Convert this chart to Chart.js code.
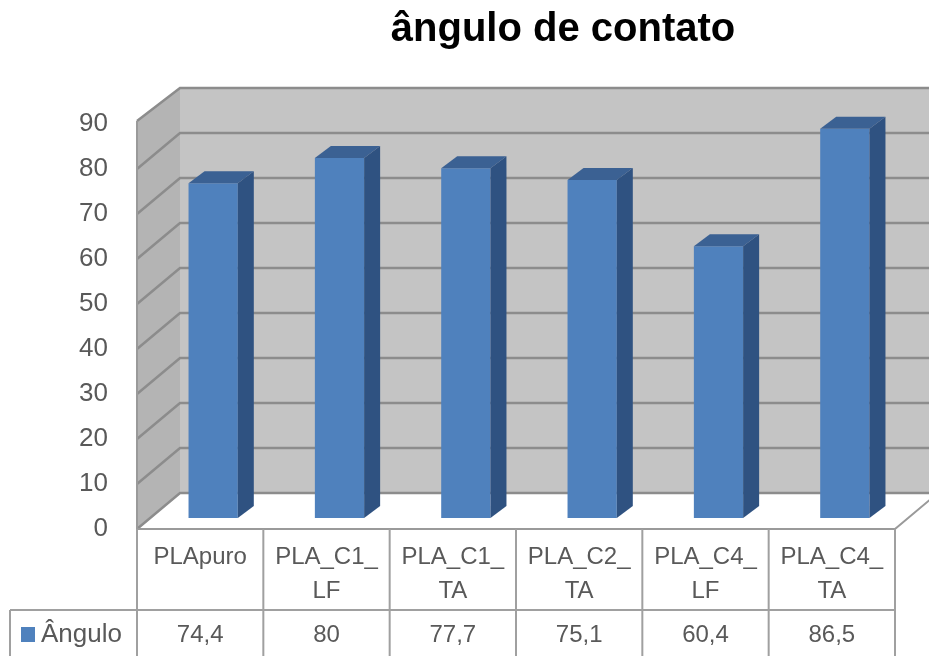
<!DOCTYPE html>
<html>
<head>
<meta charset="utf-8">
<script src="https://cdn.jsdelivr.net/npm/chart.js@4.4.1/dist/chart.umd.min.js"></script>
<style>
  body { margin: 0; background: #fff; }
  #wrap { position: relative; width: 929px; height: 656px; }
  #title {
    position: absolute; left: 313px; top: 7px; width: 500px; text-align: center;
    font: bold 40px "Liberation Sans", Arial, sans-serif; line-height: 40px; color: #000;
  }
</style>
</head>
<body>
<div id="wrap">
  <canvas id="chart" width="929" height="656"></canvas>
  <div id="title">ângulo de contato</div>
</div>
<script>
const categories = ["PLApuro", ["PLA_C1_", "LF"], ["PLA_C1_", "TA"], ["PLA_C2_", "TA"], ["PLA_C4_", "LF"], ["PLA_C4_", "TA"]];
const seriesName = "Ângulo";
const angulo = [74.4, 80, 77.7, 75.1, 60.4, 86.5];
const valueLabels = ["74,4", "80", "77,7", "75,1", "60,4", "86,5"];
const yMin = 0, yMax = 90, yStep = 10;

// fake 3D geometry (pixels)
const WALL = { dx: 43, dy: -36 };   // front plane -> back wall
const BAR = { dx: 13, dy: -11 };    // front plane -> bar front face
const DEPTH = { dx: 16, dy: -12 };  // bar thickness
const FONT = '"Liberation Sans", Arial, sans-serif';
const TEXT = "#595959";

function poly(ctx, pts, fill, stroke, lw) {
  ctx.beginPath();
  ctx.moveTo(pts[0][0], pts[0][1]);
  for (let i = 1; i < pts.length; i++) ctx.lineTo(pts[i][0], pts[i][1]);
  ctx.closePath();
  if (fill) { ctx.fillStyle = fill; ctx.fill(); }
  if (stroke) { ctx.strokeStyle = stroke; ctx.lineWidth = lw || 1; ctx.stroke(); }
}

const walls3d = {
  id: "walls3d",
  beforeDatasetsDraw(chart) {
    const { ctx, chartArea: a, scales: { y } } = chart;
    const L = a.left, R = a.right, T = y.getPixelForValue(yMax), B = y.getPixelForValue(yMin);
    ctx.save();
    // back wall
    poly(ctx, [[L + WALL.dx, T + WALL.dy], [R + WALL.dx, T + WALL.dy], [R + WALL.dx, B + WALL.dy], [L + WALL.dx, B + WALL.dy]], "#c4c4c4");
    // side wall
    poly(ctx, [[L, T - 3], [L + WALL.dx, T + WALL.dy], [L + WALL.dx, B + WALL.dy], [L, B]], "#b4b4b4");
    // floor
    poly(ctx, [[L, B], [R, B], [R + WALL.dx, B + WALL.dy], [L + WALL.dx, B + WALL.dy]], "#ffffff");
    // gridlines
    ctx.strokeStyle = "#8c8c8c";
    ctx.lineWidth = 2.5;
    for (let v = yMin; v <= yMax; v += yStep) {
      const py = y.getPixelForValue(v) + (v === yMax ? -3 : 0);
      const by = y.getPixelForValue(v) + WALL.dy;
      ctx.beginPath();
      ctx.moveTo(L, py);
      ctx.lineTo(L + WALL.dx, by);
      ctx.lineTo(R + WALL.dx, by);
      ctx.stroke();
    }
    ctx.lineWidth = 2;
    ctx.strokeStyle = "#9a9a9a";
    ctx.beginPath();
    ctx.moveTo(L, T - 3); ctx.lineTo(L, B); ctx.lineTo(R, B); ctx.lineTo(R + WALL.dx, B + WALL.dy);
    ctx.stroke();
    ctx.restore();
  },
  beforeDatasetDraw(chart) {
    chart.ctx.save();
    chart.ctx.translate(BAR.dx, BAR.dy);
  },
  afterDatasetDraw(chart, args) {
    const ctx = chart.ctx;
    args.meta.data.forEach(bar => {
      const { x, y, base, width } = bar.getProps(["x", "y", "base", "width"], true);
      const l = x - width / 2, r = x + width / 2;
      // top face
      poly(ctx, [[l, y], [l + DEPTH.dx, y + DEPTH.dy], [r + DEPTH.dx, y + DEPTH.dy], [r, y]], "#3b6193");
      // side face
      poly(ctx, [[r, y], [r + DEPTH.dx, y + DEPTH.dy], [r + DEPTH.dx, base + DEPTH.dy], [r, base]], "#2f5281");
    });
    ctx.restore();
  },
  afterDraw(chart) {
    const { ctx, chartArea: a, scales: { x } } = chart;
    const colW = (a.right - a.left) / categories.length;
    const rowY = 610, bottom = 656;
    ctx.save();
    ctx.strokeStyle = "#a0a0a0";
    ctx.lineWidth = 2;
    ctx.beginPath();
    for (let i = 0; i <= categories.length; i++) {
      const px = a.left + i * colW;
      ctx.moveTo(px, a.bottom); ctx.lineTo(px, bottom);
    }
    ctx.moveTo(10, rowY); ctx.lineTo(a.right, rowY);
    ctx.moveTo(10, rowY); ctx.lineTo(10, bottom);
    ctx.stroke();
    ctx.font = "24px " + FONT;
    ctx.fillStyle = TEXT;
    ctx.textAlign = "center";
    ctx.textBaseline = "middle";
    valueLabels.forEach((t, i) => ctx.fillText(t, x.getPixelForValue(i), 635));
    // legend key
    ctx.fillStyle = "#4f81bd";
    ctx.fillRect(21, 627, 14, 15);
    ctx.fillStyle = TEXT;
    ctx.textAlign = "left";
    ctx.font = "26px " + FONT;
    ctx.fillText(seriesName, 41, 635);
    ctx.restore();
  }
};

new Chart(document.getElementById("chart"), {
  type: "bar",
  data: {
    labels: categories,
    datasets: [{
      label: seriesName,
      data: angulo,
      backgroundColor: "#4f81bd",
      borderWidth: 0,
      barPercentage: 0.39,
      categoryPercentage: 1,
      clip: false
    }]
  },
  options: {
    responsive: false,
    animation: false,
    layout: { padding: { top: 124, right: 34, bottom: 0, left: 0 } },
    plugins: { legend: { display: false }, tooltip: { enabled: false }, title: { display: false } },
    scales: {
      x: {
        grid: { display: false, drawTicks: false },
        border: { display: false },
        ticks: { color: TEXT, font: { family: FONT, size: 24, lineHeight: 1.42 }, padding: 11, maxRotation: 0, autoSkip: false },
        afterFit(s) { s.height = 127; }
      },
      y: {
        min: yMin, max: yMax,
        grid: { display: false, drawTicks: false },
        border: { display: false },
        ticks: { stepSize: yStep, color: TEXT, font: { family: FONT, size: 26 }, padding: 29 },
        afterFit(s) { s.width = 137; }
      }
    }
  },
  plugins: [walls3d]
});
</script>
</body>
</html>
